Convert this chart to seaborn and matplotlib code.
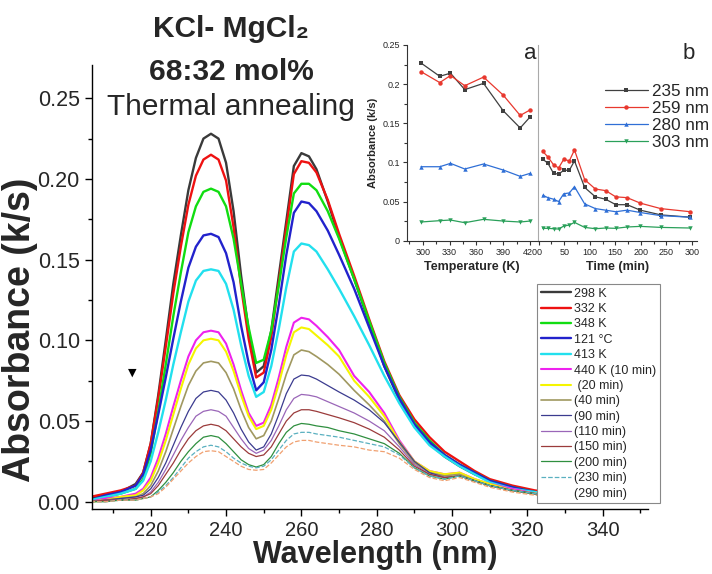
import numpy as np
import pandas as pd
import matplotlib
matplotlib.use("Agg")
import matplotlib.pyplot as plt
from matplotlib.ticker import MultipleLocator, FormatStrFormatter
import seaborn as sns

sns.set_theme(style="ticks")
plt.rcParams['font.family'] = ['Liberation Sans', 'DejaVu Sans']

# ---------------- main spectra data ----------------
wavelength = [204, 208, 212, 216, 218, 220, 222, 224, 226, 228, 230, 232, 234, 236, 238, 240, 242, 244,
              246, 248, 250, 252, 254, 256, 258, 260, 262, 264, 267, 270, 274, 278, 282, 286, 290, 294,
              298, 302, 306, 310, 316, 322, 330]

labels = ["298 K", "332 K", "348 K", "121 °C", "413 K", "440 K (10 min)", " (20 min)", "(40 min)",
          "(90 min)", "(110 min)", "(150 min)", "(200 min)", "(230 min)", "(290 min)"]

abs_298K = [.002, .004, .006, .011, .018, .036, .066, .100, .135, .165, .193, .213, .225, .228, .225, .210, .180, .140,
            .106, .080, .084, .106, .140, .174, .208, .216, .214, .206, .186, .164, .138, .111, .084, .063, .048, .036,
            .028, .022, .017, .013, .009, .006, .004]
abs_332K = [.003, .005, .007, .010, .018, .036, .064, .096, .129, .158, .184, .202, .212, .215, .212, .199, .170, .133,
            .101, .077, .080, .102, .136, .170, .203, .211, .210, .204, .187, .166, .140, .113, .087, .066, .051, .040,
            .031, .025, .019, .014, .010, .007, .005]
abs_348K = [.001, .003, .005, .008, .014, .030, .056, .085, .115, .142, .167, .183, .192, .194, .192, .183, .163, .135,
            .108, .086, .088, .106, .134, .164, .191, .197, .197, .193, .180, .163, .138, .112, .086, .065, .049, .038,
            .029, .023, .018, .013, .009, .006, .004]
abs_121C = [.001, .004, .006, .010, .017, .032, .054, .077, .101, .124, .145, .158, .165, .166, .164, .154, .136, .109,
            .086, .069, .074, .094, .122, .153, .179, .186, .185, .180, .168, .153, .132, .108, .084, .064, .048, .037,
            .029, .023, .018, .013, .009, .006, .004]
abs_413K = [.001, .003, .005, .008, .013, .025, .043, .063, .085, .105, .124, .137, .143, .144, .143, .135, .119, .097,
            .078, .065, .068, .084, .107, .133, .155, .160, .159, .155, .144, .132, .115, .097, .078, .061, .046, .035,
            .028, .022, .017, .012, .008, .006, .004]
abs_10min = [.000, .002, .003, .005, .008, .015, .027, .042, .059, .075, .090, .100, .105, .106, .105, .098, .085, .069,
             .055, .047, .049, .060, .077, .096, .111, .114, .113, .109, .102, .094, .078, .068, .055, .038, .025, .019,
             .017, .018, .014, .011, .008, .005, .003]
abs_20min = [.000, .001, .003, .004, .007, .013, .024, .038, .054, .070, .085, .095, .100, .101, .100, .093, .081, .066,
             .053, .045, .047, .057, .073, .091, .105, .108, .107, .103, .097, .090, .075, .065, .053, .037, .025, .019,
             .017, .018, .014, .011, .007, .005, .003]
abs_40min = [.000, .001, .002, .003, .005, .010, .019, .031, .045, .059, .072, .081, .086, .087, .086, .080, .070, .057,
             .046, .039, .041, .050, .064, .079, .091, .094, .093, .090, .085, .079, .069, .060, .050, .036, .024, .018,
             .016, .017, .013, .010, .007, .005, .003]
abs_90min = [.000, .001, .002, .003, .004, .008, .015, .024, .035, .046, .056, .064, .068, .069, .068, .063, .055, .045,
             .037, .032, .034, .042, .054, .067, .076, .0785, .078, .076, .072, .068, .063, .057, .049, .037, .025, .018,
             .015, .016, .013, .010, .007, .005, .003]
abs_110min = [.000, .001, .001, .002, .003, .006, .012, .020, .029, .038, .046, .053, .056, .057, .056, .053, .046, .039,
              .033, .030, .032, .038, .047, .057, .064, .0665, .066, .065, .062, .059, .055, .050, .044, .034, .023, .017,
              .015, .016, .013, .010, .007, .005, .003]
abs_150min = [.000, .001, .001, .002, .003, .005, .010, .017, .024, .032, .039, .044, .047, .048, .047, .044, .039, .034,
              .030, .028, .029, .034, .042, .050, .055, .057, .057, .056, .054, .052, .049, .045, .040, .032, .022, .017,
              .015, .016, .013, .010, .007, .005, .003]
abs_200min = [.000, .000, .001, .001, .002, .003, .007, .012, .018, .025, .031, .036, .040, .041, .040, .036, .031, .026,
              .023, .0215, .023, .028, .036, .043, .047, .0485, .048, .047, .046, .044, .042, .039, .036, .030, .021, .016,
              .014, .016, .013, .010, .007, .005, .003]
abs_230min = [.000, .000, .001, .001, .002, .003, .006, .010, .015, .021, .027, .031, .034, .035, .034, .031, .027, .024,
              .022, .021, .022, .026, .032, .038, .042, .043, .043, .042, .041, .040, .038, .036, .034, .029, .021, .016,
              .014, .016, .013, .010, .007, .005, .003]
abs_290min = [.000, .000, .001, .001, .002, .003, .005, .009, .014, .019, .024, .028, .031, .0316, .031, .028, .025, .022,
              .020, .0195, .020, .024, .029, .034, .037, .038, .038, .037, .036, .035, .034, .032, .031, .027, .020, .015,
              .013, .015, .012, .009, .006, .004, .003]

spectra = [abs_298K, abs_332K, abs_348K, abs_121C, abs_413K, abs_10min, abs_20min, abs_40min,
           abs_90min, abs_110min, abs_150min, abs_200min, abs_230min, abs_290min]

colors = ['#3a3a3a', '#ee1111', '#11dd11', '#2222cc', '#22e0ee', '#ee22ee', '#f5f500', '#a09860',
          '#3b3b8f', '#9a66b8', '#9b3b3b', '#2f8f3f', '#5ab0c0', '#f0a070']
widths = [1.7, 1.7, 1.7, 1.7, 1.7, 1.5, 1.5, 1.2, 0.9, 0.9, 0.9, 0.9, 0.9, 0.9]
styles = ['-'] * 12 + ['--', '--']

# ---------------- inset data ----------------
temperature_K = [298, 319, 331, 347, 368, 390, 409, 420]
a_235 = [0.227, 0.210, 0.214, 0.193, 0.201, 0.166, 0.144, 0.158]
a_259 = [0.216, 0.202, 0.211, 0.198, 0.209, 0.186, 0.160, 0.167]
a_280 = [0.0945, 0.0945, 0.0988, 0.0916, 0.0980, 0.0903, 0.0822, 0.0860]
a_303 = [0.0239, 0.0256, 0.0264, 0.0230, 0.0273, 0.0251, 0.0239, 0.0251]

time_min = [8, 18, 29, 39, 49, 60, 70, 90, 111, 131, 151, 173, 199, 239, 297]
b_235 = [0.104, 0.099, 0.086, 0.085, 0.090, 0.090, 0.102, 0.068, 0.056, 0.053, 0.046, 0.046, 0.039, 0.033, 0.030]
b_259 = [0.114, 0.107, 0.097, 0.093, 0.104, 0.102, 0.116, 0.078, 0.066, 0.064, 0.056, 0.055, 0.048, 0.041, 0.037]
b_280 = [0.058, 0.055, 0.053, 0.050, 0.060, 0.061, 0.069, 0.047, 0.041, 0.039, 0.037, 0.039, 0.036, 0.032, 0.030]
b_303 = [0.0158, 0.0158, 0.0153, 0.0149, 0.0187, 0.0200, 0.0234, 0.0170, 0.0153, 0.0162, 0.0158, 0.0175, 0.0183, 0.0170, 0.0162]

inset_labels = ["235 nm", "259 nm", "280 nm", "303 nm"]
inset_colors = ['#404040', '#e8382e', '#2f6fd6', '#2aa05a']
inset_markers = ['s', 'o', '^', 'v']

title_lines = ["KCl- MgCl\u2082", "68:32 mol%", "Thermal annealing"]
arrow_pos = (215, 0.080)

# ---------------- figure ----------------
W, H = 712, 574
fig = plt.figure(figsize=(W / 100, H / 100), dpi=100)
fig.patch.set_facecolor('white')

L, R, B, T = 92.3, 648, 509, 65
ax = fig.add_axes([L / W, 1 - B / H, (R - L) / W, (B - T) / H])
ax.set_facecolor('none')

for vals, lab, c, lw, ls in zip(spectra, labels, colors, widths, styles):
    df = pd.DataFrame({"wl": wavelength, "A": vals})
    sns.lineplot(data=df, x="wl", y="A", ax=ax, color=c, lw=lw, ls=ls, label=lab, sort=False)

ax.set_xlim(204.5, 352)
ax.set_ylim(-0.0045, 0.2706)
ax.xaxis.set_major_locator(MultipleLocator(20))
ax.xaxis.set_minor_locator(MultipleLocator(10))
ax.yaxis.set_major_locator(MultipleLocator(0.05))
ax.yaxis.set_minor_locator(MultipleLocator(0.025))
ax.yaxis.set_major_formatter(FormatStrFormatter('%.2f'))
for s in ['top', 'right']:
    ax.spines[s].set_visible(False)
for s in ['left', 'bottom']:
    ax.spines[s].set_color('black')
    ax.spines[s].set_linewidth(1.0)
ax.tick_params(axis='both', which='major', direction='out', length=5, width=1.0, color='black')
ax.tick_params(axis='both', which='minor', direction='out', length=3, width=1.0, color='black')
ax.tick_params(axis='x', which='major', labelsize=14.5, pad=4)
ax.tick_params(axis='y', which='major', labelsize=15.5, pad=4)

ax.set_xlabel("Wavelength (nm)", fontsize=22, fontweight='bold')
ax.set_ylabel("Absorbance (k/s)", fontsize=27, fontweight='bold')
ax.xaxis.set_label_coords(0.51, -0.069)
ax.yaxis.set_label_coords(-0.097, 0.403)

ax.text(arrow_pos[0], arrow_pos[1], "\u25BC", fontsize=8, ha='center', va='center',
        family=['DejaVu Sans'], color='black')

handles, labs = ax.get_legend_handles_labels()
leg = ax.legend(handles, labs, loc='upper left', bbox_to_anchor=(537 / W, 1 - 284 / H),
                bbox_transform=fig.transFigure, fontsize=9, frameon=True, fancybox=False,
                framealpha=1, edgecolor='#888888', handlelength=2.4, handletextpad=0.3,
                labelspacing=0.27, borderpad=0.3, borderaxespad=0)
leg.get_frame().set_linewidth(0.8)
leg.get_lines()[-1].set_visible(False)

# title block
fig.text(231 / W, 1 - 37 / H, title_lines[0], fontsize=21.5, fontweight='bold', ha='center', va='baseline')
fig.text(231 / W, 1 - 80 / H, title_lines[1], fontsize=21.5, fontweight='bold', ha='center', va='baseline')
fig.text(231 / W, 1 - 115 / H, title_lines[2], fontsize=21.5, ha='center', va='baseline')

# ---------------- inset ----------------
iy0, iy1 = 240.7, 45
ia_l, ia_r, ib_r = 406.7, 537.7, 697
axa = fig.add_axes([ia_l / W, 1 - iy0 / H, (ia_r - ia_l) / W, (iy0 - iy1) / H])
axb = fig.add_axes([ia_r / W, 1 - iy0 / H, (ib_r - ia_r) / W, (iy0 - iy1) / H])

for vals_a, vals_b, lab, c, m in zip([a_235, a_259, a_280, a_303], [b_235, b_259, b_280, b_303],
                                     inset_labels, inset_colors, inset_markers):
    sns.lineplot(x=temperature_K, y=vals_a, ax=axa, color=c, marker=m, markersize=3.2,
                 markeredgewidth=0, lw=0.9, label=lab, sort=False)
    sns.lineplot(x=time_min, y=vals_b, ax=axb, color=c, marker=m, markersize=3.2,
                 markeredgewidth=0, lw=0.9, label=lab, sort=False)

for a in (axa, axb):
    a.set_facecolor('none')
    a.set_ylim(0, 0.25)
    a.spines['top'].set_visible(False)
    a.spines['right'].set_visible(False)
    a.spines['bottom'].set_color('#333333')
    a.spines['bottom'].set_linewidth(0.8)
    a.tick_params(axis='both', which='major', labelsize=6.5, length=3, width=0.8, color='#333333', pad=2)
    a.tick_params(axis='both', which='minor', length=2, width=0.8, color='#333333')

axa.set_xlim(282, 428.6)
axa.xaxis.set_major_locator(MultipleLocator(30))
axa.xaxis.set_minor_locator(MultipleLocator(15))
axa.yaxis.set_major_locator(MultipleLocator(0.05))
axa.yaxis.set_minor_locator(MultipleLocator(0.025))
axa.yaxis.set_major_formatter(matplotlib.ticker.FuncFormatter(lambda v, p: f"{v:g}"))
axa.spines['left'].set_color('#333333')
axa.spines['left'].set_linewidth(0.8)
axa.set_xlabel("Temperature (K)", fontsize=9, fontweight='bold', labelpad=3)
axa.set_ylabel("Absorbance (k/s)", fontsize=8, fontweight='bold', labelpad=3)
axa.text(0.94, 0.955, "a", transform=axa.transAxes, fontsize=16, ha='center', va='center')

axb.set_xlim(-2, 310)
axb.xaxis.set_major_locator(MultipleLocator(50))
axb.xaxis.set_minor_locator(MultipleLocator(25))
axb.set_yticks([])
axb.spines['left'].set_color('#aaaaaa')
axb.spines['left'].set_linewidth(0.8)
axb.set_xlabel("Time (min)", fontsize=9, fontweight='bold', labelpad=3)
axb.set_ylabel("")
axb.text(0.95, 0.955, "b", transform=axb.transAxes, fontsize=16, ha='center', va='center')

ih, il = axb.get_legend_handles_labels()
axa.get_legend().remove()
axb.get_legend().remove()
fig.legend(ih, il, loc='upper left', bbox_to_anchor=(605 / W, 1 - 84 / H), frameon=False,
           fontsize=12.3, handlelength=2.5, handletextpad=0.25, labelspacing=0.12,
           borderpad=0, borderaxespad=0)

fig.savefig("out.png", dpi=100)
